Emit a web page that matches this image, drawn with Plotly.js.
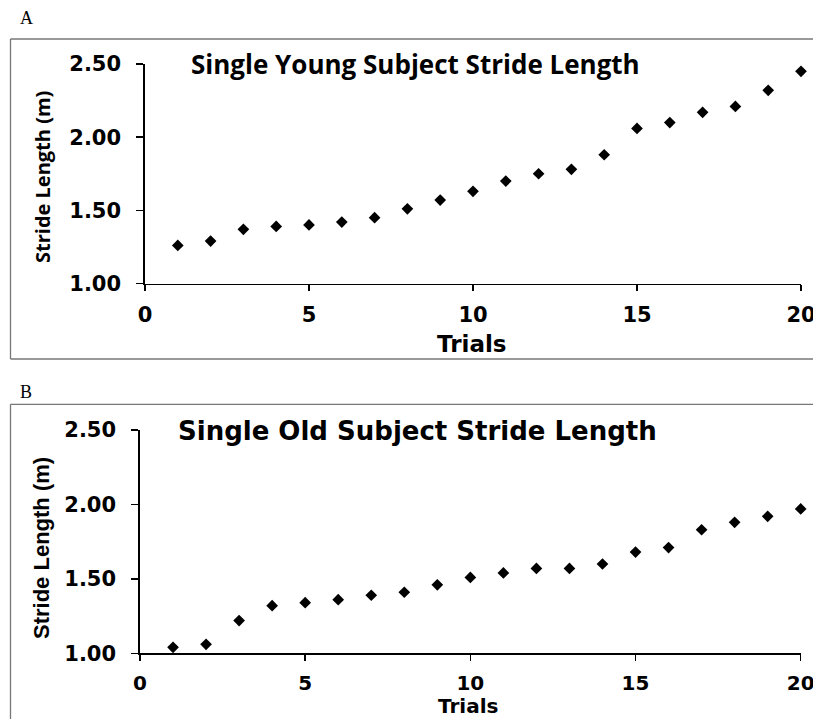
<!DOCTYPE html>
<html>
<head>
<meta charset="utf-8">
<script src="https://cdn.plot.ly/plotly-3.0.1.min.js"></script>
<style>html,body{margin:0;padding:0;background:#fff;}#chart{width:813px;height:719px;}</style>
</head>
<body>
<div id="chart"></div>
<script>
const trials = [1,2,3,4,5,6,7,8,9,10,11,12,13,14,15,16,17,18,19,20];
const youngStride = [1.26,1.29,1.37,1.39,1.40,1.42,1.45,1.51,1.57,1.63,1.70,1.75,1.78,1.88,2.06,2.10,2.17,2.21,2.32,2.45];
const oldStride = [1.04,1.06,1.22,1.32,1.34,1.36,1.39,1.41,1.46,1.51,1.54,1.57,1.57,1.60,1.68,1.71,1.83,1.88,1.92,1.97];
const yTickVals = [1.00,1.50,2.00,2.50];
const yTickText = ["1.00","1.50","2.00","2.50"];
const xTickVals = [0,5,10,15,20];
const panelLabels = ["A","B"];
const panelTitles = ["Single Young Subject Stride Length","Single Old Subject Stride Length"];
const xTitle = "Trials";
const yTitle = "Stride Length (m)";

const W = 813, H = 719;
const px = v => v / W;
const py = v => 1 - v / H;

const marker = {symbol:'diamond', size:9, color:'#000'};
const traces = [
  {x:trials, y:youngStride, type:'scatter', mode:'markers', marker:marker, xaxis:'x', yaxis:'y', cliponaxis:false, showlegend:false},
  {x:trials, y:oldStride, type:'scatter', mode:'markers', marker:marker, xaxis:'x2', yaxis:'y2', cliponaxis:false, showlegend:false}
];

function tickFont(size){ return {family:'DejaVu Sans', size:size, color:'#000', weight:'bold'}; }
function xAx(domain, anchor, standoff, fs){
  return {domain:domain, anchor:anchor, range:[0,20], tickvals:xTickVals, ticktext:xTickVals.map(String),
    showline:true, linecolor:'#000', linewidth:1.7, ticks:'outside', ticklen:6, tickwidth:1.5, tickcolor:'#000',
    showgrid:false, zeroline:false, tickfont:tickFont(fs), ticklabelstandoff:standoff, ticklabeloverflow:'allow', fixedrange:true};
}
function yAx(domain, anchor){
  return {domain:domain, anchor:anchor, range:[1,2.5], tickvals:yTickVals, ticktext:yTickText,
    showline:true, linecolor:'#000', linewidth:1.7, ticks:'outside', ticklen:7, tickwidth:1.5, tickcolor:'#000',
    showgrid:false, zeroline:false, tickfont:tickFont(21), ticklabelstandoff:11, ticklabeloverflow:'allow', fixedrange:true};
}

const frame = {color:'#777', width:1.3};
const shapes = [
  {type:'line', xref:'paper', yref:'paper', x0:px(10.5), x1:1, y0:py(39), y1:py(39), line:frame},
  {type:'line', xref:'paper', yref:'paper', x0:px(10.5), x1:px(10.5), y0:py(39), y1:py(359), line:frame},
  {type:'line', xref:'paper', yref:'paper', x0:px(10.5), x1:1, y0:py(359), y1:py(359), line:frame},
  {type:'line', xref:'paper', yref:'paper', x0:px(10.5), x1:1, y0:py(404.3), y1:py(404.3), line:frame},
  {type:'line', xref:'paper', yref:'paper', x0:px(10.5), x1:px(10.5), y0:py(404.3), y1:0, line:frame}
];

function ann(text, x, y, font, extra){
  return Object.assign({text:text, xref:'paper', yref:'paper', x:px(x), y:py(y), xanchor:'center', yanchor:'middle', showarrow:false, font:font}, extra||{});
}
const annotations = [
  ann(panelLabels[0], 26.5, 18, {family:'Liberation Serif', size:18, color:'#000'}),
  ann(panelLabels[1], 26, 392, {family:'Liberation Serif', size:18, color:'#000'}),
  ann(panelTitles[0], 416, 64, {family:'Open Sans', size:26, color:'#000', weight:'bold'}),
  ann(panelTitles[1], 417, 431, {family:'DejaVu Sans', size:26, color:'#000', weight:'bold'}),
  ann(xTitle, 471, 344, {family:'DejaVu Sans', size:23, color:'#000', weight:'bold'}),
  ann(xTitle, 468, 706, {family:'DejaVu Sans', size:20, color:'#000', weight:'bold'}),
  ann(yTitle, 43, 177, {family:'Open Sans', size:20, color:'#000', weight:'bold'}, {textangle:-90}),
  ann(yTitle, 41, 548, {family:'Liberation Sans', size:22, color:'#000', weight:'bold'}, {textangle:-90})
];

const layout = {
  width:W, height:H,
  margin:{l:0, r:0, t:0, b:0, pad:0},
  paper_bgcolor:'#fff', plot_bgcolor:'rgba(0,0,0,0)',
  showlegend:false,
  xaxis: xAx([px(145), px(801)], 'y', 6, 21),
  yaxis: yAx([py(283.5), py(64)], 'x'),
  xaxis2: xAx([px(140), px(800.7)], 'y2', 5, 20),
  yaxis2: yAx([py(653.3), py(430)], 'x2'),
  shapes: shapes,
  annotations: annotations
};

Plotly.newPlot('chart', traces, layout, {displayModeBar:false, staticPlot:true});
</script>
</body>
</html>
